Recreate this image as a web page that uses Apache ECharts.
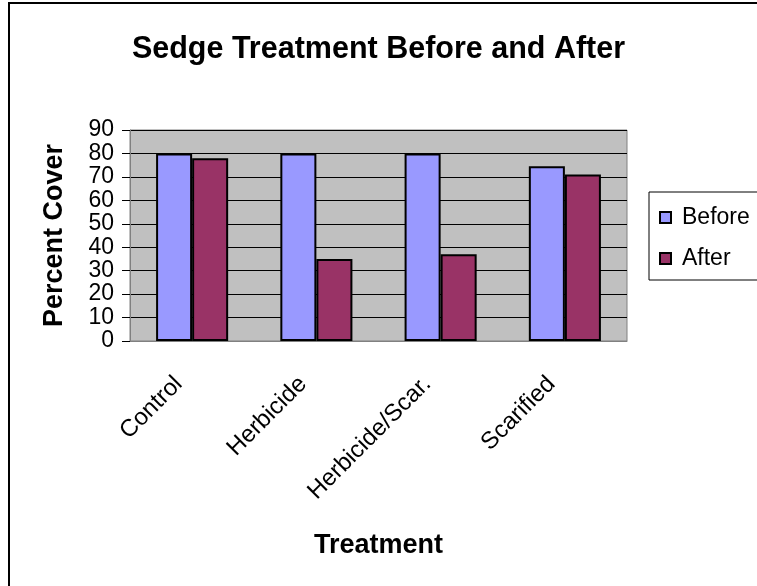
<!DOCTYPE html>
<html>
<head>
<meta charset="utf-8">
<title>Sedge Treatment Before and After</title>
<script src="https://cdn.jsdelivr.net/npm/echarts@6/dist/echarts.min.js"></script>
<style>
    body, html { margin: 0; padding: 0; background: #fff; }
    #chart { width: 757px; height: 586px; }
</style>
</head>
<body>
<div id="chart"></div>
<script>
var treatments = ['Control', 'Herbicide', 'Herbicide/Scar.', 'Scarified'];
var beforeVals = [80, 80, 80, 74.5];
var afterVals = [78, 35, 37, 71];
var yTicks = [0, 10, 20, 30, 40, 50, 60, 70, 80, 90];

var chart = echarts.init(document.getElementById('chart'));
var font = 'Arial, "Liberation Sans", sans-serif';

var option = {
    backgroundColor: '#fff',
    animation: false,
    textStyle: { fontFamily: font },
    graphic: [{
        type: 'rect',
        z: -10,
        shape: { x: 9, y: 3, width: 800, height: 700 },
        style: { fill: 'none', stroke: '#000', lineWidth: 2 }
    }],
    title: {
        text: 'Sedge Treatment Before and After',
        left: 'center',
        top: 29,
        textStyle: { fontFamily: font, fontSize: 30.5, fontWeight: 'bold', color: '#000' }
    },
    legend: {
        orient: 'vertical',
        left: 649,
        top: 192,
        padding: [14, 30, 10, 10],
        itemGap: 18,
        itemWidth: 11,
        itemHeight: 11,
        icon: 'rect',
        borderColor: '#000',
        borderWidth: 1,
        backgroundColor: '#fff',
        textStyle: { fontFamily: font, fontSize: 23, color: '#000', padding: [0, 0, 0, 6] },
        data: ['Before', 'After']
    },
    grid: {
        show: true,
        left: 130,
        right: 130,
        top: 130,
        bottom: 245,
        backgroundColor: '#C0C0C0',
        borderColor: '#808080',
        borderWidth: 1
    },
    xAxis: {
        type: 'category',
        data: treatments,
        name: 'Treatment',
        nameLocation: 'middle',
        nameGap: 191,
        nameTextStyle: { fontFamily: font, fontSize: 27, fontWeight: 'bold', color: '#000' },
        axisLine: { lineStyle: { color: '#808080', width: 1 } },
        axisTick: { length: 8, lineStyle: { color: '#000' } },
        axisLabel: {
            rotate: 45, margin: 26, fontFamily: font, fontSize: 24, color: '#000',
            padding: [0, 19, 0, 0]
        }
    },
    yAxis: {
        type: 'value',
        min: yTicks[0],
        max: yTicks[yTicks.length - 1],
        interval: 10,
        name: 'Percent Cover',
        nameLocation: 'middle',
        nameRotate: 90,
        nameGap: 62,
        nameTextStyle: { fontFamily: font, fontSize: 27, fontWeight: 'bold', color: '#000' },
        axisLine: { show: true, lineStyle: { color: '#808080', width: 1 } },
        axisTick: { show: true, length: 8, lineStyle: { color: '#000' } },
        axisLabel: { margin: 16, fontFamily: font, fontSize: 23, color: '#000' },
        splitLine: { show: true, lineStyle: { color: '#000', width: 1 } }
    },
    series: [{
        name: 'Before',
        type: 'bar',
        data: beforeVals,
        barGap: '0%',
        barCategoryGap: '42%',
        itemStyle: { color: '#9999FF', borderColor: '#000', borderWidth: 2 }
    }, {
        name: 'After',
        type: 'bar',
        data: afterVals,
        itemStyle: { color: '#993366', borderColor: '#000', borderWidth: 2 }
    }]
};
chart.setOption(option);
</script>
</body>
</html>
